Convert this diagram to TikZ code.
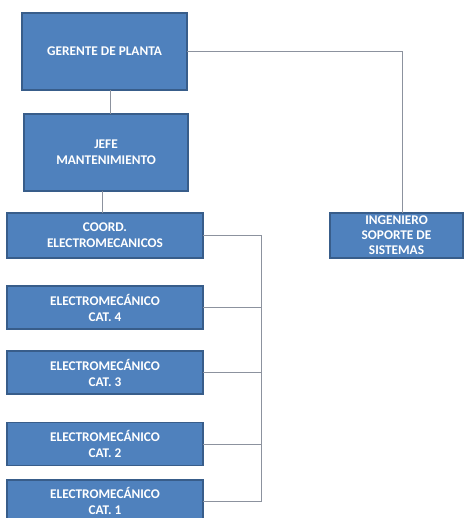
\documentclass[tikz,border=0pt]{standalone}
\usepackage{fontspec}
\setmainfont{Carlito}
\begin{document}
\begin{tikzpicture}[x=1pt,y=-1pt,
  orgbox/.style={draw=boxedge, fill=boxfill, line width=1.2pt, text=white,
    font=\bfseries\fontsize{13.3}{16}\selectfont, align=center,
    inner sep=0pt, outer sep=0pt},
  link/.style={draw=linkgray, line width=1pt}]
\definecolor{boxfill}{RGB}{79,129,189}
\definecolor{boxedge}{RGB}{56,93,138}
\definecolor{linkgray}{RGB}{140,146,158}
\useasboundingbox (0,0) rectangle (464,518);
\clip (0,0) rectangle (464,518);
\fill[white] (0,0) rectangle (464,518);

% boxes
\node[orgbox, minimum width=165pt, minimum height=77pt] (ger) at (104.5,51.5) {GERENTE DE PLANTA};
\node[orgbox, minimum width=164pt, minimum height=77pt] (jefe) at (106,152.5) {JEFE\\MANTENIMIENTO};
\node[orgbox, minimum width=196pt, minimum height=45pt] (coord) at (105,235.5) {COORD.\\ELECTROMECANICOS};
\node[orgbox, minimum width=196pt, minimum height=43pt] (cat4) at (105,307.5) {ELECTROMECÁNICO\\CAT. 4};
\node[orgbox, minimum width=196pt, minimum height=43pt] (cat3) at (105,372.5) {ELECTROMECÁNICO\\CAT. 3};
\node[orgbox, minimum width=196pt, minimum height=43pt] (cat2) at (105,444) {ELECTROMECÁNICO\\CAT. 2};
\node[orgbox, minimum width=196pt, minimum height=42pt] (cat1) at (105,501) {ELECTROMECÁNICO\\CAT. 1};
\node[orgbox, minimum width=133pt, minimum height=45pt,
  font=\bfseries\fontsize{13.3}{15}\selectfont] (ing) at (396.5,235.5) {INGENIERO\\SOPORTE DE\\SISTEMAS};

% tap points of the connectors
\coordinate (gtap) at ([xshift=5.5pt]ger.south);
\coordinate (jtap) at ([xshift=-4pt]jefe.south);
\coordinate (itap) at ([xshift=5.5pt]ing.north);
\coordinate (bus) at (261,0);

% connectors
\path[link] (gtap) -- (gtap |- jefe.north);
\path[link] (jtap) -- (jtap |- coord.north);
\path[link] (ger.east) -- (ger.east -| itap) -- (itap);
\path[link] (coord.east) -- (coord.east -| bus) -- (cat1.east -| bus) -- (cat1.east);
\path[link] (cat4.east) -- (cat4.east -| bus);
\path[link] (cat3.east) -- (cat3.east -| bus);
\path[link] (cat2.east) -- (cat2.east -| bus);
\end{tikzpicture}
\end{document}
